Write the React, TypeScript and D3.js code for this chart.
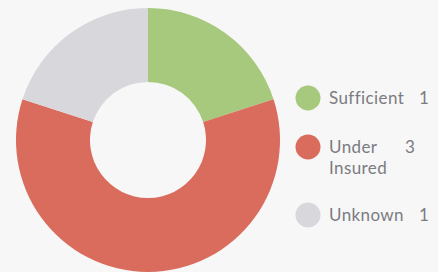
import React, { useEffect, useRef } from "react";
import * as d3 from "d3";

// chart values
const categories = ["Sufficient", "Under Insured", "Unknown"];
const labelLines = [["Sufficient"], ["Under", "Insured"], ["Unknown"]];
const counts = [1, 3, 1];
const colors = ["#a7c97d", "#d96c5d", "#d7d7dc"];

const App = () => {
  const svgRef = useRef<SVGSVGElement>(null);

  useEffect(() => {
    const svg = d3.select(svgRef.current);
    svg.selectAll("*").remove();

    const width = 438;
    const height = 272;
    const cx = 148;
    const cy = 140;
    const outerR = 132;
    const innerR = 58;

    svg.attr("viewBox", `0 0 ${width} ${height}`);

    svg.append("rect")
      .attr("width", width)
      .attr("height", height)
      .attr("fill", "#f7f7f7");

    const data = categories.map((c, i) => ({ name: c, value: counts[i], color: colors[i] }));

    const pie = d3.pie<any>()
      .sort(null)
      .value(d => d.value);

    const arc = d3.arc<any>()
      .innerRadius(innerR)
      .outerRadius(outerR);

    svg.append("g")
      .attr("transform", `translate(${cx},${cy})`)
      .selectAll("path")
      .data(pie(data))
      .enter()
      .append("path")
      .attr("d", arc)
      .attr("fill", d => d.data.color);

    // legend rows, the wrapped one takes more room
    const rowY = [98, 147, 215];
    const dotX = 308;
    const labelX = 329;
    const colW = 76;
    const gap = 14;

    const legend = svg.append("g")
      .attr("font-family", "Lato, 'Open Sans', sans-serif")
      .attr("font-size", 17)
      .attr("letter-spacing", 0.4)
      .attr("fill", "#7b7b82");

    data.forEach((d, i) => {
      const y = rowY[i];
      legend.append("circle")
        .attr("cx", dotX)
        .attr("cy", y)
        .attr("r", 12.5)
        .attr("fill", d.color);

      const lines = labelLines[i];
      const t = legend.append("text")
        .attr("x", labelX)
        .attr("y", y + 6);
      lines.forEach((ln, j) => {
        t.append("tspan")
          .attr("x", labelX)
          .attr("dy", j === 0 ? 0 : 21)
          .text(ln);
      });

      const vx = lines.length > 1 ? labelX + colW : labelX + colW + gap;
      legend.append("text")
        .attr("x", vx)
        .attr("y", y + 6)
        .text(d.value);
    });
  }, []);

  return (
    <svg
      ref={svgRef}
      width={438}
      height={272}
      style={{ position: "absolute", left: 0, top: 0, display: "block" }}
    />
  );
};

export default App;
